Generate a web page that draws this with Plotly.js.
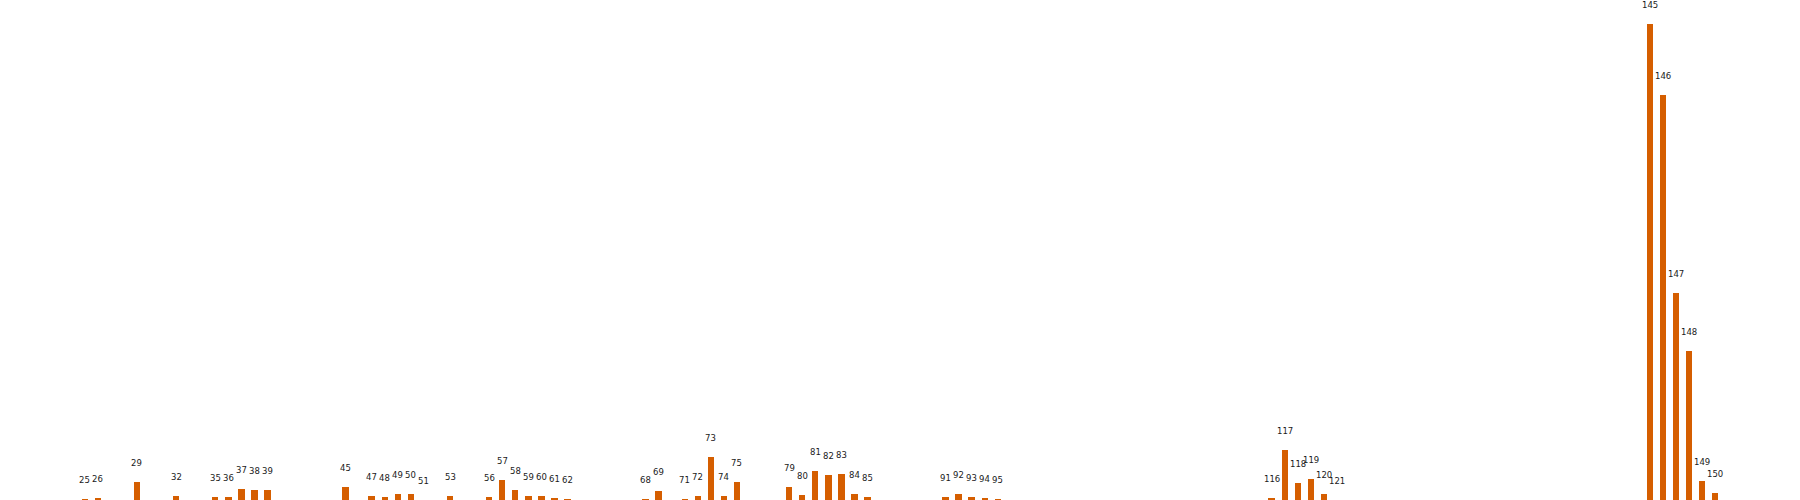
<!DOCTYPE html>
<html>
<head>
<meta charset="utf-8">
<script src="https://cdn.plot.ly/plotly-3.0.1.min.js"></script>
<style>html,body{margin:0;padding:0;background:#fff;}#chart{width:1800px;height:500px;}</style>
</head>
<body>
<div id="chart"></div>
<script>
const categories = [25,26,29,32,35,36,37,38,39,45,47,48,49,50,51,53,56,57,58,59,60,61,62,68,69,71,72,73,74,75,79,80,81,82,83,84,85,91,92,93,94,95,116,117,118,119,120,121,145,146,147,148,149,150];
const values = [1,2,18,4,3,3,11,10,10,13,4,3,6,6,0,4,3,20,10,4,4,2,1,1,9,1,4,43,4,18,13,5,29,25,26,6,3,3,6,3,2,1,2,50,17,21,6,0,476,405,207,149,19,7];
const labels = categories.map(String);

const trace = {
  type: 'bar',
  x: categories,
  y: values,
  width: 0.5,
  marker: {color: '#D55E00', line: {width: 0}},
  hoverinfo: 'x+y'
};

const annotations = categories.map((c, i) => ({
  x: c, y: values[i], xref: 'x', yref: 'y',
  text: labels[i], showarrow: false,
  xanchor: 'center', yanchor: 'middle', yshift: 19,
  font: {family: 'DejaVu Sans', size: 8.5, color: '#1a1a1a'}
}));

const layout = {
  width: 1800, height: 500,
  margin: {l: 0, r: 0, t: 0, b: 0, pad: 0},
  paper_bgcolor: '#ffffff', plot_bgcolor: '#ffffff',
  showlegend: false,
  xaxis: {range: [18.5, 156.5], visible: false, showgrid: false, zeroline: false},
  yaxis: {range: [0, 500], visible: false, showgrid: false, zeroline: false},
  annotations: annotations,
  bargap: 0
};

Plotly.newPlot('chart', [trace], layout, {displayModeBar: false, staticPlot: true});
</script>
</body>
</html>
